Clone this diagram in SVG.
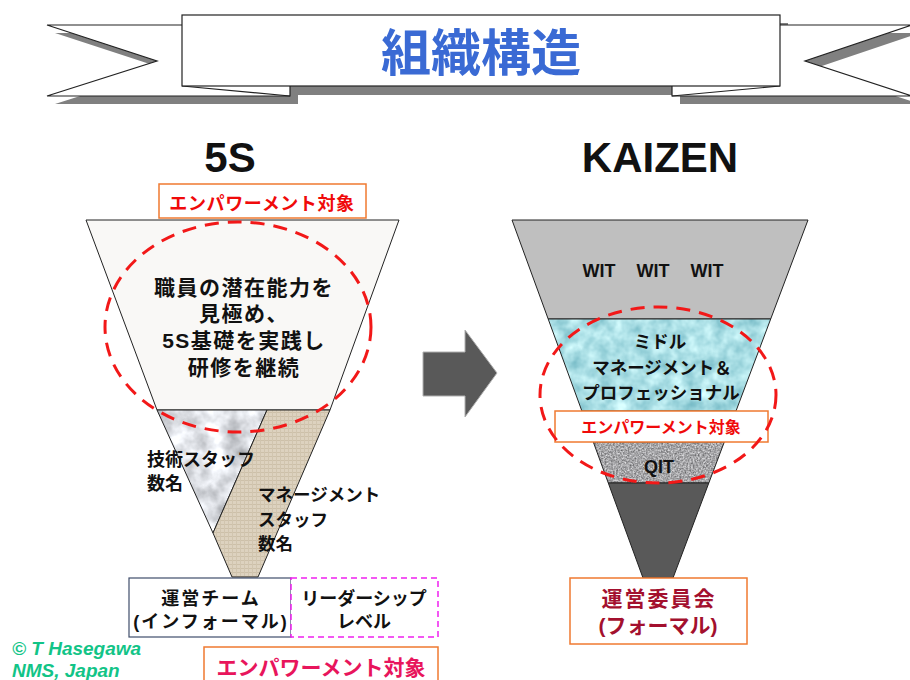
<svg xmlns="http://www.w3.org/2000/svg" width="910" height="680" viewBox="0 0 910 680">
<defs>
<style>
.ol{stroke:#222;stroke-width:1;}
.sh{fill:#808080;}
.wh{fill:#fff;stroke:#222;stroke-width:1.2;}
.jp{font-family:"Liberation Sans","Noto Sans CJK JP",sans-serif;font-weight:bold;}
.blk{fill:#111;}
.red{fill:#f00a0a;}
.obox{fill:#fff;stroke:#f07a30;stroke-width:1.5;}
.ell{fill:none;stroke:#f21818;stroke-width:3;stroke-dasharray:14 9;}
.cr{font-family:"Liberation Sans",sans-serif;font-style:italic;font-weight:bold;fill:#12c487;font-size:19px;}
filter{color-interpolation-filters:sRGB;}
</style>
<filter id="fMarble" x="0" y="0" width="100%" height="100%">
<feTurbulence type="fractalNoise" baseFrequency="0.04" numOctaves="4" seed="7"/>
<feColorMatrix type="matrix" values="0.7 0 0 0 0.52  0.7 0 0 0 0.53  0.7 0 0 0 0.55  0 0 0 0 1"/>
<feComposite in2="SourceGraphic" operator="in"/>
</filter>
<filter id="fWater" x="0" y="0" width="100%" height="100%">
<feTurbulence type="fractalNoise" baseFrequency="0.07" numOctaves="3" seed="2"/>
<feColorMatrix type="matrix" values="0.5 0 0 0 0.42  0.35 0 0 0 0.7  0.3 0 0 0 0.75  0 0 0 0 1"/>
<feComposite in2="SourceGraphic" operator="in"/>
</filter>
<filter id="fGranite" x="0" y="0" width="100%" height="100%">
<feTurbulence type="fractalNoise" baseFrequency="0.6" numOctaves="2" seed="5"/>
<feColorMatrix type="matrix" values="0.7 0 0 0 0.3  0.7 0 0 0 0.3  0.7 0 0 0 0.31  0 0 0 0 1"/>
<feComposite in2="SourceGraphic" operator="in"/>
</filter>
<pattern id="pBeige" width="4" height="4" patternUnits="userSpaceOnUse">
<rect width="4" height="4" fill="#ddd2bf"/>
<rect width="4" height="1" fill="#cdc0a9"/>
<rect width="1" height="4" fill="#d1c5af"/>
</pattern>
</defs>

<g id="banner">
<polygon class="sh" points="55,33 298,33 298,104 55,104 165,69"/>
<polygon class="sh" points="680,33 920,33 813,69 920,104 680,104"/>
<rect class="sh" x="190" y="23" width="598" height="72"/>
<polygon class="wh" points="47,25 290,25 290,96 47,96 157,61"/>
<polygon class="wh" points="672,25 912,25 805,61 912,96 672,96"/>
<path d="M182,86 L290,96" fill="none" stroke="#222" stroke-width="1.2"/>
<path d="M780,86 L672,96" fill="none" stroke="#222" stroke-width="1.2"/>
<rect class="wh" x="182" y="15" width="598" height="71"/>
<text x="481" y="71" text-anchor="middle" class="jp" font-size="50" fill="#3a6ad4">組織構造</text>
</g>

<g id="title-5s">
<text x="230" y="172" text-anchor="middle" font-family="Liberation Sans, sans-serif" font-weight="bold" font-size="42" fill="#111">5S</text>
</g>
<g id="title-kaizen">
<text x="660" y="172" text-anchor="middle" font-family="Liberation Sans, sans-serif" font-weight="bold" font-size="42" fill="#111">KAIZEN</text>
</g>

<g id="left-empower-top">
<rect class="obox" x="159" y="184" width="207" height="34"/>
<text x="262" y="210" text-anchor="middle" class="jp red" font-size="18" letter-spacing="0.6">エンパワーメント対象</text>
</g>

<g id="left-funnel-top">
<polygon points="86,220 399,220 330,410 157,410" fill="#f9f8f6" class="ol"/>
</g>
<g id="left-tech-staff">
<polygon points="157,410 267,410 213,533" fill="#fff" filter="url(#fMarble)"/>
<polygon points="157,410 267,410 213,533" fill="none" class="ol"/>
</g>
<g id="left-mgmt-staff">
<polygon points="267,410 330,410 258,577 232,577 213,533" fill="url(#pBeige)" class="ol"/>
<text class="jp blk" font-size="17.5" x="258" y="501">マネージメント</text>
<text class="jp blk" font-size="17.5" x="258" y="526">スタッフ</text>
<text class="jp blk" font-size="17.5" x="258" y="550">数名</text>
</g>
<g id="left-tech-staff-label">
<text class="jp blk" font-size="18" x="147" y="466">技術スタッフ</text>
<text class="jp blk" font-size="18" x="147" y="490">数名</text>
</g>
<g id="left-ellipse">
<ellipse class="ell" cx="238" cy="327" rx="133" ry="105"/>
<text class="jp blk" font-size="21" letter-spacing="1.5" text-anchor="middle" x="244" y="295">職員の潜在能力を</text>
<text class="jp blk" font-size="21" letter-spacing="1.5" text-anchor="middle" x="244" y="321">見極め、</text>
<text class="jp blk" font-size="21" letter-spacing="1.5" text-anchor="middle" x="244" y="348">5S基礎を実践し</text>
<text class="jp blk" font-size="21" letter-spacing="1.5" text-anchor="middle" x="244" y="375">研修を継続</text>
</g>

<g id="left-team-box">
<rect x="129" y="578" width="162" height="59" fill="#fff" stroke="#3f4d6b" stroke-width="1.2"/>
<text class="jp blk" font-size="18" letter-spacing="2" text-anchor="middle" x="211" y="605">運営チーム</text>
<text class="jp blk" font-size="18" letter-spacing="2" text-anchor="middle" x="211" y="628">(インフォーマル)</text>
</g>
<g id="left-leader-box">
<rect x="291" y="578" width="147" height="59" fill="#fff" stroke="#f020f0" stroke-width="1.5" stroke-dasharray="6 4"/>
<text class="jp blk" font-size="18" text-anchor="middle" x="364" y="605">リーダーシップ</text>
<text class="jp blk" font-size="18" text-anchor="middle" x="364" y="628">レベル</text>
</g>
<g id="left-empower-bottom">
<rect class="obox" x="204" y="647" width="234" height="40"/>
<text class="jp" fill="#e8155c" font-size="21" text-anchor="middle" x="321" y="675">エンパワーメント対象</text>
</g>

<g id="copyright">
<text class="cr" x="12" y="655">©  T Hasegawa</text>
<text class="cr" x="12" y="677">NMS,  Japan</text>
</g>

<g id="connectors">
<polygon points="423,352 465,352 465,330 497,373 465,417 465,396 423,396" fill="#595959" stroke="#b0b0b0" stroke-width="1"/>
</g>

<g id="right-wit">
<polygon points="512,220 808,220 770.7,319 548.2,319" fill="#bfbfbf" class="ol"/>
<text class="jp blk" font-size="18" text-anchor="middle" x="599" y="277">WIT</text>
<text class="jp blk" font-size="18" text-anchor="middle" x="653" y="277">WIT</text>
<text class="jp blk" font-size="18" text-anchor="middle" x="707" y="277">WIT</text>
</g>
<g id="right-middle">
<polygon points="548.2,319 770.7,319 736,411 581.9,411" fill="#fff" filter="url(#fWater)"/>
<polygon points="548.2,319 770.7,319 736,411 581.9,411" fill="none" class="ol"/>
<text class="jp blk" font-size="17.5" text-anchor="middle" x="660" y="348">ミドル</text>
<text class="jp blk" font-size="17.5" text-anchor="middle" x="662" y="374">マネージメント＆</text>
<text class="jp blk" font-size="17.5" text-anchor="middle" x="661" y="399">プロフェッショナル</text>
</g>
<g id="right-qit">
<polygon points="593.3,442 724.3,442 708.8,483 608.3,483" fill="#fff" filter="url(#fGranite)"/>
<polygon points="593.3,442 724.3,442 708.8,483 608.3,483" fill="none" class="ol"/>
<text class="blk" font-family="Liberation Sans, sans-serif" font-weight="bold" font-size="18" text-anchor="middle" x="659" y="473">QIT</text>
</g>
<g id="right-bottom">
<polygon points="608.3,483 708.8,483 673,578 643,578" fill="#595959" class="ol"/>
</g>
<g id="right-empower">
<rect class="obox" x="555" y="411" width="213" height="31"/>
<text class="jp red" font-size="16" text-anchor="middle" x="661" y="433">エンパワーメント対象</text>
</g>
<g id="right-ellipse">
<ellipse class="ell" cx="658" cy="395" rx="118" ry="88"/>
</g>
<g id="right-committee">
<rect class="obox" x="570" y="578" width="177" height="66"/>
<text class="jp" fill="#a3102e" font-size="21" letter-spacing="2" text-anchor="middle" x="659" y="606">運営委員会</text>
<text class="jp" fill="#a3102e" font-size="21" text-anchor="middle" x="658" y="633">(フォーマル)</text>
</g>
</svg>
